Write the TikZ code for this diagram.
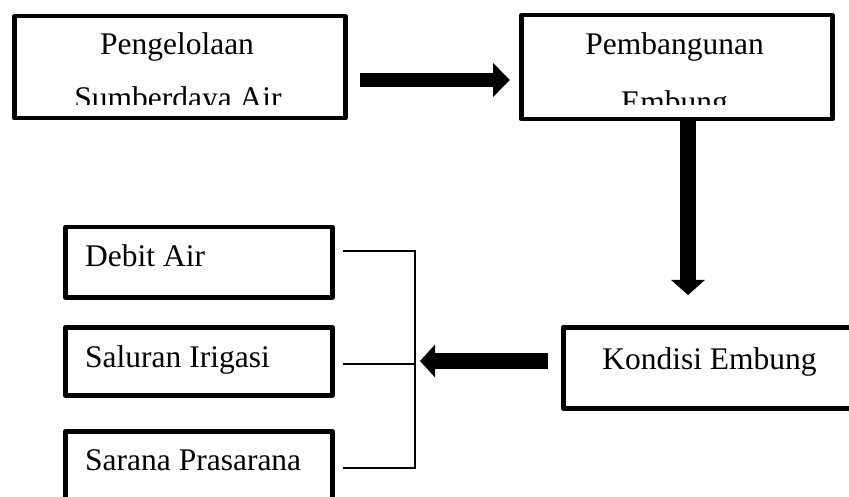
\documentclass[tikz,border=0pt]{standalone}
\usepackage{fontspec}
\setmainfont{Liberation Serif}
\usetikzlibrary{arrows.meta}
\begin{document}
\begin{tikzpicture}[x=1pt,y=-1pt,
  boxnode/.style={draw,line width=4.5pt,line join=round,rectangle,inner sep=0pt,anchor=north west},
  lbl/.style={font=\fontsize{31.5}{31.5}\selectfont,inner sep=0pt,anchor=base},
  lblw/.style={font=\fontsize{31.5}{31.5}\selectfont,inner sep=0pt,anchor=base west},
  fat/.style={line width=#1},
  thinline/.style={line width=1.2pt}]
\path[use as bounding box,clip] (0,0) rectangle (849,497);
\fill[white] (0,0) rectangle (849,497);
% boxes
\node[boxnode,minimum width=331pt,minimum height=102pt] (b1) at (12,14) {};
\node[boxnode,minimum width=311pt,minimum height=104pt] (b2) at (519,13) {};
\node[boxnode,minimum width=267pt,minimum height=70pt] (d1) at (63,225) {};
\node[boxnode,minimum width=267pt,minimum height=68pt] (d2) at (63,325) {};
\node[boxnode,minimum width=267pt,minimum height=130pt] (d3) at (63,429) {};
\node[boxnode,minimum width=340pt,minimum height=81pt] (k) at (561,325) {};
% texts
\node[lbl] (t1a) at (177,55) {Pengelolaan};
\node[lbl] (t2a) at (674.5,55) {Pembangunan};
\begin{scope}
\clip (14,60) rectangle (341,105);
\node[lbl] (t1b) at (178,109) {Sumberdaya Air};
\end{scope}
\begin{scope}
\clip (521,60) rectangle (828,105);
\node[lbl] (t2b) at (674.5,113) {Embung};
\end{scope}
\node[lblw] (td1) at (85,266) {Debit Air};
\node[lblw] (td2) at (85,367) {Saluran Irigasi};
\node[lblw] (td3) at (85,470) {Sarana Prasarana};
\node[lbl] (tk) at (709.5,369) {Kondisi Embung};
% arrow coordinates
\coordinate (a1s) at (360,80);
\coordinate (a1e) at (510,80);
\coordinate (a2s) at (688,117);
\coordinate (a2e) at (688,295);
\coordinate (a3s) at (548,361);
\coordinate (a3e) at (420,361);
\draw[fat=14pt,-{Triangle[width=33pt,length=17pt]}] (a1s) -- (a1e);
\draw[fat=16pt,-{Triangle[width=33pt,length=15pt]}] (a2s) -- (a2e);
\draw[fat=16pt,-{Triangle[width=32pt,length=15pt]}] (a3s) -- (a3e);
% bracket
\coordinate (p1) at (343,251);
\coordinate (p2) at (343,364);
\coordinate (p3) at (343,468);
\coordinate (q1) at (415,251);
\coordinate (q2) at (415,364);
\coordinate (q3) at (415,468);
\draw[thinline] (p1) -- (q1) -- (q3) -- (p3);
\draw[thinline] (p2) -- (q2);
\end{tikzpicture}
\end{document}
